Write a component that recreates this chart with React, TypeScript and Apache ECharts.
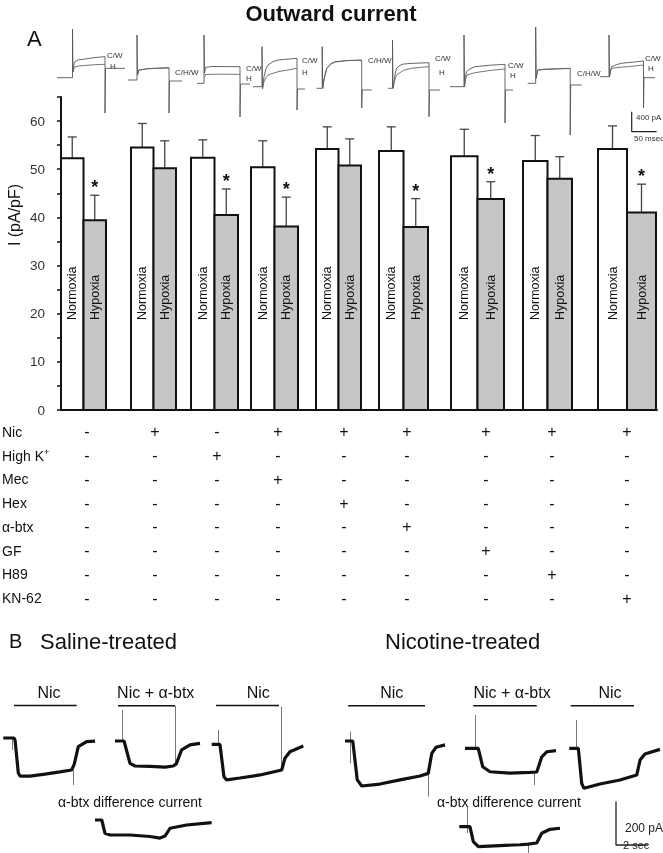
import React, { useEffect, useRef } from 'react';
import * as echarts from 'echarts';

// ---------------- Panel A: bar data (I, pA/pF) ----------------
const normoxiaMean = [52.3, 54.5, 52.4, 50.4, 54.2, 53.8, 52.7, 51.7, 54.2];
const normoxiaSem = [4.4, 5.0, 3.7, 5.5, 4.6, 5.0, 5.6, 5.3, 4.8];
const hypoxiaMean = [39.4, 50.2, 40.5, 38.1, 50.8, 38.0, 43.8, 48.0, 41.0];
const hypoxiaSem = [5.2, 5.7, 5.4, 6.1, 5.5, 5.9, 3.6, 4.6, 5.9];
const significant = [1, 0, 1, 1, 0, 1, 1, 0, 1];
const yMax = 65;
const yTickStep = 5;

// ---------------- Panel A: treatment table ----------------
const treatmentNames = ['Nic', 'High K+', 'Mec', 'Hex', 'α-btx', 'GF', 'H89', 'KN-62'];
const treatmentNic = ['-', '+', '-', '+', '+', '+', '+', '+', '+'];
const treatmentHighK = ['-', '-', '+', '-', '-', '-', '-', '-', '-'];
const treatmentMec = ['-', '-', '-', '+', '-', '-', '-', '-', '-'];
const treatmentHex = ['-', '-', '-', '-', '+', '-', '-', '-', '-'];
const treatmentBtx = ['-', '-', '-', '-', '-', '+', '-', '-', '-'];
const treatmentGF = ['-', '-', '-', '-', '-', '-', '+', '-', '-'];
const treatmentH89 = ['-', '-', '-', '-', '-', '-', '-', '+', '-'];
const treatmentKN62 = ['-', '-', '-', '-', '-', '-', '-', '-', '+'];

// ---------------- Panel A: outward current traces [ms, pA] ----------------
const outwardCW = [
  [[0, 0], [31, 0], [31, 974], [32, 114], [34, 274], [36, 320], [42, 354], [56, 374], [76, 404], [96, 420], [96, -706], [97, 188], [136, 188]],
  [[0, 0], [18, 0], [18, 900], [19, 100], [22, 200], [40, 230], [82, 246], [82, -660], [83, -20], [108, -20]],
  [[0, 0], [14, 0], [14, 966], [15, 200], [17, 320], [30, 336], [60, 334], [86, 332], [86, -674], [87, -14], [106, -14]],
  [[0, 0], [18, 0], [18, 800], [19, -40], [22, 200], [26, 360], [30, 434], [40, 500], [50, 534], [70, 552], [88, 568], [88, -466], [89, -46], [104, -46]],
  [[0, 0], [11, 0], [11, 832], [12, 0], [15, 200], [20, 400], [28, 490], [37, 532], [60, 556], [90, 566], [90, -394], [91, -34], [110, -34]],
  [[0, 0], [9, 0], [9, 966], [10, 0], [13, 220], [17, 400], [24, 460], [31, 486], [50, 500], [82, 512], [82, -568], [83, -34], [104, -34]],
  [[0, 0], [28, 0], [28, 1034], [29, 0], [31, 200], [33, 300], [40, 360], [50, 400], [80, 430], [110, 448], [110, -726], [111, -66], [126, -66]],
  [[0, 0], [16, 0], [16, 1126], [17, 100], [20, 266], [30, 280], [60, 292], [85, 300], [85, -1034], [86, -34], [108, -34]],
  [[0, 0], [18, 0], [18, 834], [19, 0], [21, 120], [23, 200], [33, 240], [43, 268], [65, 290], [87, 314], [87, -626], [88, -20], [110, -20]],
];
const outwardH = [
  [[32, 114], [34, 180], [36, 220], [50, 240], [76, 260], [96, 268]],
  [[19, 100], [22, 196], [40, 224], [82, 240]],
  [[15, 120], [17, 176], [40, 182], [86, 180]],
  [[19, -40], [22, 100], [26, 180], [30, 234], [50, 300], [70, 334], [88, 368]],
  [[12, 0], [15, 190], [20, 390], [28, 482], [37, 526], [60, 552], [90, 560]],
  [[10, 0], [13, 150], [17, 266], [31, 360], [47, 400], [65, 420], [82, 432]],
  [[29, 0], [31, 150], [34, 234], [50, 280], [63, 300], [85, 330], [110, 354]],
  [[17, 100], [20, 262], [30, 276], [60, 288], [85, 296]],
  [[19, 0], [21, 100], [23, 168], [40, 190], [57, 200], [72, 218], [87, 234]],
];
const outwardTags = [['C/W', 'H'], ['C/H/W'], ['C/W', 'H'], ['C/W', 'H'], ['C/H/W'], ['C/W', 'H'], ['C/W', 'H'], ['C/H/W'], ['C/W', 'H']];
const scaleBarA = [[0, 400], [0, 0], [50, 0]]; // 400 pA, 50 msec

// ---------------- Panel B: traces [s, pA] ----------------
const salineNic1 = [[0, 0], [0.66, 0], [0.73, -10], [0.93, -161], [1.04, -175], [1.66, -175], [2.58, -166], [3.51, -156], [4.24, -147], [4.4, -120], [4.65, -40], [5.17, -17], [5.69, -14]];
const salineNicBtx = [[0, 0], [0.56, 0], [0.93, -103], [1.24, -115], [2.17, -117], [3.1, -120], [3.61, -115], [3.8, -105], [4.13, -41], [4.65, -18], [5.27, -11]];
const salineNic2 = [[0, 0], [0.51, 0], [0.76, -149], [0.93, -164], [1.75, -155], [3.0, -141], [4.34, -118], [4.54, -64], [4.85, -34], [5.68, -8]];
const salineDiff = [[0, 0], [0.42, 0], [0.62, -61], [0.93, -69], [2.17, -69], [3.41, -76], [4.03, -83], [4.34, -74], [4.65, -38], [5.68, -23], [7.23, -12]];
const nicotineNic1 = [[0, 0], [0.48, 0], [0.76, -179], [1.04, -207], [2.17, -198], [3.41, -179], [4.65, -161], [5.16, -149], [5.38, -57], [5.64, -29], [6.2, -18]];
const nicotineNicBtx = [[0, 0], [0.82, 0], [1.1, -85], [1.55, -108], [2.79, -114], [4.03, -111], [4.45, -109], [4.76, -39], [5.07, -16], [5.64, -11]];
const nicotineNic2 = [[0, 0], [0.56, 0], [0.77, -161], [0.91, -184], [1.9, -164], [3.14, -146], [4.18, -123], [4.39, -54], [4.69, -26], [5.62, -5]];
const nicotineDiff = [[0, 0], [0.66, 0], [0.87, -69], [1.18, -92], [2.52, -87], [3.76, -83], [4.26, -80], [4.8, -75], [5.11, -30], [5.62, -12], [6.24, -7]];
// drug application bars: [start s, end s, level pA]
const salineBars = [[0.66, 4.55, 149], [0.19, 3.72, 162], [0.27, 4.17, 178]];
const nicotineBars = [[0.2, 4.96, 162], [0.51, 4.45, 196], [0.09, 4.01, 196]];
const barNames = ['Nic', 'Nic + α-btx', 'Nic'];
// artifacts: [s, pA from, pA to]
const salineArtifacts = [[[0.58, 0, -55], [4.34, -147, -216]], [[0.43, 143, -3], [3.76, 162, -103]], [[0.41, 66, -3], [4.3, 173, -118]], []];
const nicotineArtifacts = [[[0.35, 43, -103], [5.18, -149, -256]], [[0.62, 153, 0], [4.31, -109, -169]], [[0.42, 130, -8]], [[0.52, 92, -30], [4.27, -80, -130]]];
const scaleBarB = [[0, 200], [0, 0], [2, 0]]; // 200 pA, 2 sec

// ---------------- layout (pixels) ----------------
const FONT = 'Liberation Sans, Arial, Helvetica, sans-serif';
const PLOT_LEFT = 61;
const PLOT_TOP = 97;
const PLOT_WIDTH = 596;
const PLOT_HEIGHT = 313;
const groupCenters = [22.5, 92.5, 153.5, 213.5, 277.5, 342.5, 416.5, 486.5, 566];
const barWidths = [22.5, 22.5, 23.5, 23.5, 22.5, 24.5, 26.5, 24.5, 29];
const tableCols = [26, 94, 156, 217, 283, 346, 425, 491, 566];
const LABEL_BASE = 18.7;
const TABLE_TOP = 420;
const TABLE_HEIGHT = 190;
const outwardOrigins = [[57, 77.7], [128, 80], [197, 83.3], [253, 86.7], [316.7, 88.3], [388, 88.3], [450, 86.7], [527.7, 83.3], [600, 76.7]];
const outwardTagPos = [[[107, 55], [110, 66]], [[175, 72]], [[246, 68], [246, 78]], [[302, 60], [302, 72]], [[368, 60]], [[435, 58], [439, 72]], [[508, 65], [510, 75]], [[577, 73]], [[645, 58], [648, 68]]];
const SCALE_A = [2, 20]; // ms per px, pA per px
const SCALE_B = [0.062, 4.6]; // s per px, pA per px
const salineOrigins = [[3.3, 738], [115, 741], [211.7, 744.3], [95, 820]];
const nicotineOrigins = [[345, 741], [465, 748.3], [569.3, 748.3], [459.3, 826.7]];

function txt(x: number, y: number, text: string, size: number, o: any = {}) {
  const align = o.align || 'left';
  return {
    type: 'text', x, y, rotation: o.rot || 0, silent: true, z: 10,
    style: {
      text, fontSize: size, fontFamily: o.family || FONT, fontWeight: o.weight || 'normal',
      fill: o.color || '#111', align, verticalAlign: 'middle', textAlign: align, textVerticalAlign: 'middle',
    },
  };
}

function buildOption() {
  const grid: any[] = [];
  const xAxis: any[] = [];
  const yAxis: any[] = [];
  const series: any[] = [];
  const graphic: any[] = [];

  // main bar grid
  grid.push({ left: PLOT_LEFT, top: PLOT_TOP, width: PLOT_WIDTH, height: PLOT_HEIGHT, containLabel: false, outerBoundsMode: 'none' });
  xAxis.push({
    gridIndex: 0, type: 'value', min: 0, max: PLOT_WIDTH,
    axisLine: { show: true, onZero: false, lineStyle: { color: '#111', width: 2 } },
    axisTick: { show: false }, axisLabel: { show: false }, splitLine: { show: false },
  });
  yAxis.push({
    gridIndex: 0, type: 'value', min: 0, max: yMax, interval: yTickStep,
    axisLine: { show: true, lineStyle: { color: '#111', width: 2 } },
    axisTick: { show: true, inside: false, length: 4, lineStyle: { color: '#111', width: 1.5 } },
    axisLabel: { formatter: (v: number) => (v % 10 === 0 ? String(v) : ''), fontSize: 13.5, color: '#333', fontFamily: FONT, margin: 16 },
    splitLine: { show: false },
  });

  const barRender = (kind: number) => (params: any, api: any) => {
    const gi = api.value(0);
    const v = api.value(1);
    const e = api.value(2);
    const sig = api.value(3);
    const c = groupCenters[gi];
    const w = barWidths[gi];
    const x0 = kind === 0 ? c - w : c;
    const pBase = api.coord([x0, 0]);
    const pTop = api.coord([x0 + w, v]);
    const cap = api.coord([x0 + w / 2, v + e]);
    const lab = api.coord([x0 + w / 2, LABEL_BASE]);
    const children: any[] = [
      { type: 'line', shape: { x1: cap[0], y1: pTop[1], x2: cap[0], y2: cap[1] }, style: { stroke: '#444', lineWidth: 1.3 } },
      { type: 'line', shape: { x1: cap[0] - 4.5, y1: cap[1], x2: cap[0] + 4.5, y2: cap[1] }, style: { stroke: '#444', lineWidth: 1.3 } },
      {
        type: 'rect',
        shape: { x: pBase[0], y: pTop[1], width: pTop[0] - pBase[0], height: pBase[1] - pTop[1] },
        style: { fill: kind === 0 ? '#ffffff' : '#c6c6c6', stroke: '#111', lineWidth: 2 },
      },
      {
        type: 'text', x: lab[0], y: lab[1], rotation: Math.PI / 2,
        style: { text: kind === 0 ? 'Normoxia' : 'Hypoxia', fontSize: 12.5, fontFamily: FONT, fill: '#111', align: 'left', verticalAlign: 'middle', textAlign: 'left', textVerticalAlign: 'middle' },
      },
    ];
    if (sig) {
      children.push({
        type: 'text', x: cap[0], y: cap[1] + 1,
        style: { text: '*', fontSize: 18, fontWeight: 'bold', fontFamily: FONT, fill: '#111', align: 'center', verticalAlign: 'bottom', textAlign: 'center', textVerticalAlign: 'bottom' },
      });
    }
    return { type: 'group', children };
  };

  series.push({
    type: 'custom', name: 'Normoxia', xAxisIndex: 0, yAxisIndex: 0, renderItem: barRender(0), clip: false,
    data: normoxiaMean.map((v, i) => [i, v, normoxiaSem[i], 0]), encode: { x: 0, y: 1 },
  });
  series.push({
    type: 'custom', name: 'Hypoxia', xAxisIndex: 0, yAxisIndex: 0, renderItem: barRender(1), clip: false,
    data: hypoxiaMean.map((v, i) => [i, v, hypoxiaSem[i], significant[i]]), encode: { x: 0, y: 1 },
  });

  // table grid
  const rows = [treatmentNic, treatmentHighK, treatmentMec, treatmentHex, treatmentBtx, treatmentGF, treatmentH89, treatmentKN62];
  grid.push({ left: PLOT_LEFT, top: TABLE_TOP, width: PLOT_WIDTH, height: TABLE_HEIGHT, containLabel: false, outerBoundsMode: 'none' });
  xAxis.push({ gridIndex: 1, type: 'value', min: 0, max: PLOT_WIDTH, show: false });
  yAxis.push({
    gridIndex: 1, type: 'category', data: treatmentNames, inverse: true,
    axisLine: { show: false }, axisTick: { show: false }, splitLine: { show: false },
    axisLabel: {
      align: 'left', margin: 59, color: '#111',
      formatter: (v: string) => (v === 'High K+' ? '{n|High K}{s|+}' : '{n|' + v + '}'),
      rich: {
        n: { fontSize: 14, fontFamily: FONT, color: '#111' },
        s: { fontSize: 9, fontFamily: FONT, color: '#111', verticalAlign: 'top', padding: [0, 0, 7, 0] },
      },
    },
  });
  const cells: any[] = [];
  rows.forEach((r, ri) => r.forEach((s, ci) => cells.push([ci, ri, s === '+' ? 1 : 0])));
  series.push({
    type: 'custom', xAxisIndex: 1, yAxisIndex: 1, clip: false, data: cells,
    renderItem: (params: any, api: any) => {
      const ci = api.value(0);
      const ri = api.value(1);
      const plus = api.value(2);
      const p = api.coord([tableCols[ci], ri]);
      return {
        type: 'text', x: p[0], y: p[1],
        style: { text: plus ? '+' : '-', fontSize: 16, fontFamily: FONT, fill: '#111', align: 'center', verticalAlign: 'middle', textAlign: 'center', textVerticalAlign: 'middle' },
      };
    },
  });

  // trace grids
  const addTrace = (origin: number[], scale: number[], lines: any[], artifacts?: number[][]) => {
    const idx = grid.length;
    const pts: number[][] = [];
    lines.forEach((l) => l.data.forEach((p: number[]) => pts.push(p)));
    (artifacts || []).forEach((a) => { pts.push([a[0], a[1]]); pts.push([a[0], a[2]]); });
    const xs = pts.map((p) => p[0]);
    const ys = pts.map((p) => p[1]);
    const xmin = Math.min(...xs);
    const xmax = Math.max(...xs);
    const ymin = Math.min(...ys);
    const ymax = Math.max(...ys);
    grid.push({
      left: origin[0] + xmin / scale[0], top: origin[1] - ymax / scale[1],
      width: (xmax - xmin) / scale[0], height: (ymax - ymin) / scale[1],
      containLabel: false, outerBoundsMode: 'none',
    });
    xAxis.push({ gridIndex: idx, type: 'value', min: xmin, max: xmax, show: false });
    yAxis.push({ gridIndex: idx, type: 'value', min: ymin, max: ymax, show: false });
    lines.forEach((l) => series.push({
      type: 'line', xAxisIndex: idx, yAxisIndex: idx, data: l.data, symbol: 'none', showSymbol: false,
      lineStyle: { color: l.color, width: l.width }, clip: false, silent: true, z: l.z || 2,
    }));
    if (artifacts && artifacts.length) {
      series.push({
        type: 'lines', coordinateSystem: 'cartesian2d', xAxisIndex: idx, yAxisIndex: idx, silent: true,
        data: artifacts.map((a) => ({ coords: [[a[0], a[1]], [a[0], a[2]]] })),
        lineStyle: { color: '#777', width: 1, opacity: 1 },
      });
    }
  };

  outwardCW.forEach((cw, i) => {
    addTrace(outwardOrigins[i], SCALE_A, [
      { data: cw, color: '#555', width: 0.9 },
      { data: outwardH[i], color: '#666', width: 0.9 },
    ]);
  });
  addTrace([631.7, 131.7], SCALE_A, [{ data: scaleBarA, color: '#222', width: 1.2 }]);

  const salineTraces = [salineNic1, salineNicBtx, salineNic2, salineDiff];
  const nicotineTraces = [nicotineNic1, nicotineNicBtx, nicotineNic2, nicotineDiff];
  salineTraces.forEach((tr, i) => {
    const lines: any[] = [{ data: tr, color: '#111', width: 3.2 }];
    if (i < 3) lines.push({ data: [[salineBars[i][0], salineBars[i][2]], [salineBars[i][1], salineBars[i][2]]], color: '#111', width: 1.5 });
    addTrace(salineOrigins[i], SCALE_B, lines, salineArtifacts[i]);
  });
  nicotineTraces.forEach((tr, i) => {
    const lines: any[] = [{ data: tr, color: '#111', width: 3.2 }];
    if (i < 3) lines.push({ data: [[nicotineBars[i][0], nicotineBars[i][2]], [nicotineBars[i][1], nicotineBars[i][2]]], color: '#111', width: 1.5 });
    addTrace(nicotineOrigins[i], SCALE_B, lines, nicotineArtifacts[i]);
  });
  addTrace([616, 845], SCALE_B, [{ data: scaleBarB, color: '#222', width: 1.3 }]);

  // texts
  graphic.push(txt(331, 13, 'Outward current', 22, { align: 'center', weight: 'bold' }));
  graphic.push(txt(27, 38, 'A', 22));
  graphic.push(txt(14, 215, 'I (pA/pF)', 16, { align: 'center', rot: Math.PI / 2 }));
  outwardTags.forEach((tags, i) => tags.forEach((tg, j) => {
    const p = outwardTagPos[i][j];
    graphic.push(txt(p[0], p[1], tg, 8, { color: '#333' }));
  }));
  graphic.push(txt(636, 117, '400 pA', 8, { color: '#333' }));
  graphic.push(txt(634, 138, '50 msec', 8, { color: '#333' }));
  graphic.push(txt(9, 641, 'B', 20));
  graphic.push(txt(40, 641, 'Saline-treated', 22));
  graphic.push(txt(385, 641, 'Nicotine-treated', 22));
  const salineLabelX = [49, 155.7, 258.3];
  const nicotineLabelX = [391.7, 512, 610];
  barNames.forEach((n, i) => {
    graphic.push(txt(salineLabelX[i], 692, n, 16, { align: 'center' }));
    graphic.push(txt(nicotineLabelX[i], 692, n, 16, { align: 'center' }));
  });
  graphic.push(txt(130, 802, 'α-btx difference current', 14, { align: 'center' }));
  graphic.push(txt(509, 802, 'α-btx difference current', 14, { align: 'center' }));
  graphic.push(txt(625, 828, '200 pA', 12, { color: '#222' }));
  graphic.push(txt(623, 845, '2 sec', 11, { color: '#222' }));

  return {
    animation: false,
    backgroundColor: '#ffffff',
    textStyle: { fontFamily: FONT },
    grid, xAxis, yAxis, series, graphic,
  };
}

export default function App() {
  const ref = useRef<HTMLDivElement>(null);
  useEffect(() => {
    document.body.style.margin = '0';
    const chart = echarts.init(ref.current as HTMLDivElement, null, { renderer: 'svg' });
    chart.setOption(buildOption() as any);
    return () => chart.dispose();
  }, []);
  return <div ref={ref} style={{ width: 663, height: 853, filter: 'grayscale(1)' }} />;
}
